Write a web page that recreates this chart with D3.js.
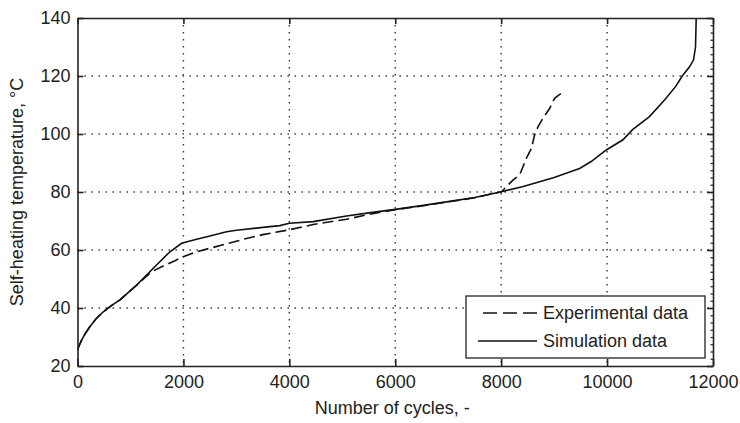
<!DOCTYPE html>
<html>
<head>
<meta charset="utf-8">
<script src="https://cdn.jsdelivr.net/npm/d3@7"></script>
<style>
  body { margin: 0; background: #fff; }
  svg text { font-family: "Liberation Sans", Arial, sans-serif; fill: #222; }
</style>
</head>
<body>
<div id="wrapper"></div>
<script>
// cycles / temperature
const simCycles = [0, 30, 80, 150, 236, 350, 487, 640, 802, 1117, 1431, 1745, 1966, 2249, 2500, 2815, 3000, 3500, 3821, 4000, 4450, 5080, 5500, 6000, 6500, 6967, 7500, 8004, 8400, 8726, 9000, 9481, 9700, 9985, 10300, 10481, 10800, 11085, 11300, 11419, 11550, 11632, 11670, 11683];
const simTemp   = [25.5, 27.0, 29.0, 31.3, 33.6, 36.3, 38.7, 40.8, 42.8, 47.9, 53.7, 59.4, 62.3, 63.7, 64.8, 66.3, 66.8, 67.8, 68.4, 69.2, 69.8, 71.7, 72.8, 74.0, 75.3, 76.6, 78.1, 80.1, 81.8, 83.5, 85.0, 88.1, 90.5, 94.5, 98.0, 101.5, 106.0, 111.7, 116.5, 120.0, 123.0, 125.5, 130.0, 140.0];

const expCycles = [0, 30, 80, 150, 236, 350, 487, 640, 802, 1117, 1400, 1619, 1840, 1996, 2249, 2500, 3000, 3192, 3500, 4009, 4450, 5080, 5500, 6000, 6500, 6967, 7500, 8004, 8223, 8349, 8412, 8475, 8570, 8632, 8695, 8789, 8915, 9009, 9100, 9198];
const expTemp   = [25.5, 27.0, 29.0, 31.3, 33.6, 36.3, 38.7, 40.8, 42.8, 47.9, 52.5, 54.5, 56.3, 57.7, 59.4, 60.6, 63.0, 64.0, 65.3, 67.0, 68.8, 70.6, 72.3, 73.9, 75.2, 76.5, 78.0, 80.1, 84.1, 85.9, 88.7, 91.6, 95.0, 99.7, 102.5, 105.4, 108.8, 112.3, 113.6, 114.6];

const xTicks = [0, 2000, 4000, 6000, 8000, 10000, 12000];
const yTicks = [20, 40, 60, 80, 100, 120, 140];
const legendNames = ["Experimental data", "Simulation data"];

const dimension = {
    width: 740,
    height: 423,
    margin: { top: 18, right: 27, bottom: 57, left: 77.5 }
};
dimension.boundedWidth = dimension.width - dimension.margin.left - dimension.margin.right;
dimension.boundedHeight = dimension.height - dimension.margin.top - dimension.margin.bottom;

const x = d3.scaleLinear().domain([0, 12000]).range([0, dimension.boundedWidth]);
const y = d3.scaleLinear().domain([20, 140]).range([dimension.boundedHeight, 0]);

const wrapper = d3.select("#wrapper")
    .append("svg")
    .attr("width", dimension.width)
    .attr("height", dimension.height);

wrapper.append("rect")
    .attr("width", dimension.width)
    .attr("height", dimension.height)
    .attr("fill", "#fff");

const bounds = wrapper.append("g")
    .attr("transform", `translate(${dimension.margin.left},${dimension.margin.top})`);

// dotted grid
bounds.append("g")
    .selectAll("line")
    .data(xTicks.slice(1, -1))
    .enter()
    .append("line")
    .attr("x1", d => x(d)).attr("x2", d => x(d))
    .attr("y1", 0).attr("y2", dimension.boundedHeight)
    .attr("stroke", "#333")
    .attr("stroke-width", 1.4)
    .attr("stroke-dasharray", "1.4,5.6");

bounds.append("g")
    .selectAll("line")
    .data(yTicks.slice(1, -1))
    .enter()
    .append("line")
    .attr("y1", d => y(d)).attr("y2", d => y(d))
    .attr("x1", 0).attr("x2", dimension.boundedWidth)
    .attr("stroke", "#333")
    .attr("stroke-width", 1.4)
    .attr("stroke-dasharray", "1.4,5.6");

// curves
bounds.append("clipPath").attr("id", "clip")
    .append("rect")
    .attr("width", dimension.boundedWidth)
    .attr("height", dimension.boundedHeight);

const line = d3.line()
    .x(d => x(d[0]))
    .y(d => y(d[1]));

bounds.append("path")
    .datum(expCycles.map((c, i) => [c, expTemp[i]]))
    .attr("d", line)
    .attr("clip-path", "url(#clip)")
    .attr("fill", "none")
    .attr("stroke", "#111")
    .attr("stroke-width", 1.6)
    .attr("stroke-dasharray", "11,5");

bounds.append("path")
    .datum(simCycles.map((c, i) => [c, simTemp[i]]))
    .attr("d", line)
    .attr("clip-path", "url(#clip)")
    .attr("fill", "none")
    .attr("stroke", "#111")
    .attr("stroke-width", 1.6);

// axes, ticks inward on all sides
const styleAxis = g => {
    g.selectAll(".domain").attr("stroke", "#222").attr("stroke-width", 1.6);
    g.selectAll(".tick line").attr("stroke", "#222").attr("stroke-width", 1.6);
    g.selectAll("text").style("font-size", "18px").attr("fill", "#222");
};

bounds.append("g")
    .attr("transform", `translate(0,${dimension.boundedHeight})`)
    .call(d3.axisBottom(x).tickValues(xTicks).tickFormat(d3.format("d")).tickSize(-7).tickSizeOuter(0).tickPadding(9))
    .call(styleAxis);

bounds.append("g")
    .call(d3.axisLeft(y).tickValues(yTicks).tickSize(-6).tickSizeOuter(0).tickPadding(7))
    .call(styleAxis);

bounds.append("g")
    .call(d3.axisTop(x).tickValues(xTicks).tickSize(-6).tickSizeOuter(0).tickFormat(""))
    .call(styleAxis);

bounds.append("g")
    .attr("transform", `translate(${dimension.boundedWidth},0)`)
    .call(d3.axisRight(y).tickValues(yTicks).tickSize(-6).tickSizeOuter(0).tickFormat(""))
    .call(styleAxis);

// small minor ticks on right edge
bounds.append("g")
    .attr("transform", `translate(${dimension.boundedWidth},0)`)
    .call(d3.axisRight(y).tickValues(d3.range(20, 140, 2.5)).tickSize(-2.5).tickSizeOuter(0).tickFormat(""))
    .call(g => g.select(".domain").remove())
    .call(g => g.selectAll(".tick line").attr("stroke", "#222").attr("stroke-width", 1.2));

// legend
const legend = wrapper.append("g").attr("transform", "translate(466,296)");
legend.append("rect")
    .attr("width", 239)
    .attr("height", 62)
    .attr("fill", "#fff")
    .attr("stroke", "#222")
    .attr("stroke-width", 1.3);

const items = legend.selectAll(".item")
    .data(legendNames)
    .enter()
    .append("g")
    .attr("transform", (d, i) => `translate(0,${17 + i * 28})`);

items.append("line")
    .attr("x1", (d, i) => i === 0 ? 17 : 12)
    .attr("x2", 71)
    .attr("stroke", "#111")
    .attr("stroke-width", 1.4)
    .attr("stroke-dasharray", (d, i) => i === 0 ? "14,6" : null);

items.append("text")
    .attr("x", 77)
    .attr("y", 6)
    .style("font-size", "18px")
    .text(d => d);

// axis titles
wrapper.append("text")
    .attr("x", dimension.margin.left + dimension.boundedWidth / 2 - 3)
    .attr("y", 414)
    .style("font-size", "18px")
    .style("text-anchor", "middle")
    .text("Number of cycles, -");

wrapper.append("text")
    .attr("transform", `translate(23,${dimension.margin.top + dimension.boundedHeight / 2}) rotate(-90)`)
    .style("font-size", "18px")
    .style("text-anchor", "middle")
    .text("Self-heating temperature, °C");
</script>
</body>
</html>
